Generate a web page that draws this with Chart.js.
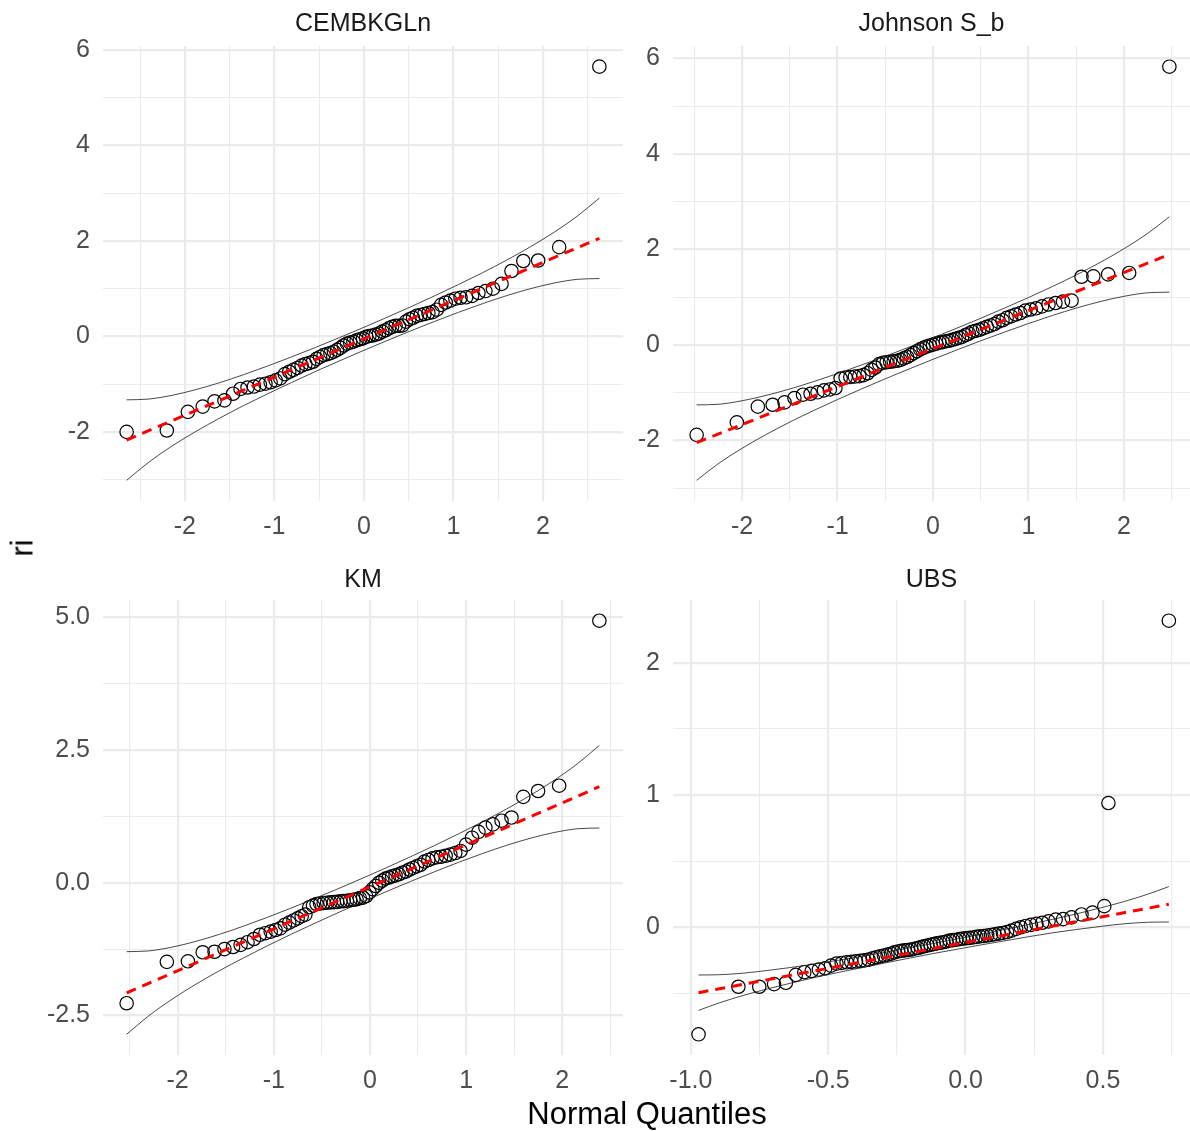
<!DOCTYPE html>
<html><head><meta charset="utf-8">
<script src="https://cdn.jsdelivr.net/npm/chart.js@4.4.1/dist/chart.umd.min.js"></script>
<style>
html,body{margin:0;padding:0;background:#fff;}
#wrap{position:relative;width:1190px;height:1131px;overflow:hidden;background:#fff;font-family:"Liberation Sans",Arial,sans-serif;}
canvas{position:absolute;}
.ttl{position:absolute;color:#000;font-size:31px;white-space:nowrap;line-height:1;transform:translate(-50%,-50%);}
</style></head><body>
<div id="wrap">
<canvas id="c1" width="630" height="548" style="left:0px;top:0px;width:630px;height:548px"></canvas>
<canvas id="c2" width="560" height="548" style="left:630px;top:0px;width:560px;height:548px"></canvas>
<canvas id="c3" width="630" height="552" style="left:0px;top:548px;width:630px;height:552px"></canvas>
<canvas id="c4" width="560" height="552" style="left:630px;top:548px;width:560px;height:552px"></canvas>
<div class="ttl" style="left:22px;top:548px;transform:translate(-50%,-50%) rotate(-90deg);">ri</div>
<div class="ttl" style="left:647px;top:1113px;">Normal Quantiles</div>
</div>
<script>
// ---------- data ----------
const panelTitles = ['CEMBKGLn', 'Johnson S_b', 'KM', 'UBS'];

// CEMBKGLn
const x_CEMBKGLn = [-2.651,-2.202,-1.967,-1.801,-1.669,-1.558,-1.462,-1.378,-1.300,-1.229,
 -1.162,-1.100,-1.042,-0.986,-0.934,-0.883,-0.834,-0.787,-0.741,-0.696,
 -0.653,-0.611,-0.569,-0.529,-0.489,-0.450,-0.411,-0.374,-0.335,-0.299,
 -0.262,-0.226,-0.189,-0.153,-0.117,-0.081,-0.045,-0.010,0.025,0.061,
 0.097,0.133,0.169,0.206,0.242,0.279,0.315,0.354,0.391,0.430,
 0.469,0.509,0.549,0.591,0.633,0.676,0.721,0.767,0.814,0.863,
 0.914,0.966,1.022,1.080,1.142,1.209,1.280,1.358,1.442,1.538,
 1.649,1.781,1.947,2.182,2.631];
const y_CEMBKGLn = [-2.00,-1.97,-1.58,-1.47,-1.36,-1.34,-1.20,-1.10,-1.07,-1.05,
 -1.01,-0.99,-0.96,-0.92,-0.88,-0.79,-0.74,-0.70,-0.66,-0.61,
 -0.58,-0.56,-0.53,-0.47,-0.43,-0.39,-0.37,-0.35,-0.32,-0.28,
 -0.24,-0.19,-0.15,-0.13,-0.11,-0.08,-0.06,-0.04,-0.01,0.01,
 0.02,0.04,0.06,0.10,0.13,0.17,0.20,0.22,0.22,0.23,
 0.31,0.36,0.39,0.43,0.45,0.47,0.49,0.51,0.56,0.66,
 0.71,0.75,0.79,0.81,0.82,0.85,0.91,0.95,1.00,1.10,
 1.37,1.58,1.59,1.87,5.65];
const bandX_CEMBKGLn = [-2.651,-2.411,-2.144,-1.877,-1.611,-1.344,-1.077,-0.810,-0.544,-0.277,-0.010,0.257,0.524,0.790,1.057,1.324,1.591,1.857,2.124,2.391,2.631];
const bandHi_CEMBKGLn = [-1.328,-1.313,-1.234,-1.114,-0.968,-0.801,-0.621,-0.430,-0.233,-0.028,0.183,0.400,0.621,0.850,1.087,1.333,1.594,1.874,2.180,2.529,2.898];
const bandLo_CEMBKGLn = [-3.014,-2.645,-2.296,-1.990,-1.710,-1.449,-1.203,-0.966,-0.737,-0.516,-0.299,-0.088,0.117,0.314,0.505,0.685,0.852,0.998,1.118,1.197,1.212];
const lineX_CEMBKGLn = [-2.651, 2.631];
const lineY_CEMBKGLn = [-2.171, 2.055];

// Johnson S_b
const x_Johnson = [-2.475,-2.054,-1.834,-1.679,-1.555,-1.451,-1.361,-1.282,-1.209,-1.142,
 -1.080,-1.022,-0.967,-0.915,-0.866,-0.818,-0.772,-0.728,-0.685,-0.643,
 -0.603,-0.563,-0.524,-0.486,-0.449,-0.412,-0.376,-0.341,-0.305,-0.271,
 -0.236,-0.202,-0.168,-0.134,-0.100,-0.067,-0.033,0.000,0.033,0.067,
 0.100,0.134,0.168,0.202,0.236,0.271,0.305,0.341,0.376,0.412,
 0.449,0.486,0.524,0.563,0.603,0.643,0.685,0.728,0.772,0.818,
 0.866,0.915,0.967,1.022,1.080,1.142,1.209,1.282,1.361,1.451,
 1.555,1.679,1.834,2.054,2.475];
const y_Johnson = [-1.88,-1.62,-1.29,-1.25,-1.20,-1.11,-1.04,-1.02,-0.99,-0.95,
 -0.93,-0.90,-0.70,-0.68,-0.67,-0.66,-0.65,-0.63,-0.59,-0.52,
 -0.47,-0.40,-0.37,-0.36,-0.35,-0.34,-0.33,-0.31,-0.28,-0.25,
 -0.21,-0.17,-0.13,-0.09,-0.06,-0.03,-0.01,0.01,0.03,0.05,
 0.06,0.08,0.09,0.11,0.13,0.15,0.17,0.21,0.24,0.28,
 0.30,0.32,0.35,0.38,0.41,0.44,0.49,0.52,0.57,0.60,
 0.64,0.67,0.72,0.745,0.77,0.81,0.85,0.88,0.91,0.93,
 1.43,1.44,1.48,1.51,5.83];
const bandX_Johnson = [-2.475,-2.25,-2,-1.75,-1.5,-1.25,-1,-0.75,-0.5,-0.25,0,0.25,0.5,0.75,1,1.25,1.5,1.75,2,2.25,2.475];
const bandHi_Johnson = [-1.253,-1.241,-1.167,-1.056,-0.920,-0.765,-0.597,-0.419,-0.235,-0.044,0.153,0.354,0.561,0.775,0.995,1.225,1.468,1.730,2.017,2.341,2.687];
const bandLo_Johnson = [-2.833,-2.487,-2.163,-1.876,-1.614,-1.371,-1.141,-0.921,-0.707,-0.500,-0.299,-0.102,0.089,0.273,0.451,0.619,0.774,0.910,1.021,1.095,1.107];
const lineX_Johnson = [-2.475, 2.475];
const lineY_Johnson = [-2.043, 1.897];

// KM
const x_KM = [-2.530,-2.112,-1.893,-1.739,-1.616,-1.513,-1.423,-1.345,-1.273,-1.206,
 -1.144,-1.087,-1.032,-0.981,-0.932,-0.884,-0.839,-0.795,-0.752,-0.710,
 -0.671,-0.631,-0.592,-0.555,-0.518,-0.481,-0.445,-0.411,-0.375,-0.341,
 -0.306,-0.273,-0.239,-0.205,-0.171,-0.139,-0.105,-0.072,-0.039,-0.005,
 0.027,0.061,0.095,0.129,0.162,0.197,0.231,0.267,0.301,0.337,
 0.374,0.411,0.448,0.487,0.527,0.567,0.608,0.651,0.695,0.740,
 0.788,0.837,0.888,0.943,1.000,1.062,1.129,1.201,1.279,1.369,
 1.472,1.595,1.749,1.968,2.386];
const y_KM = [-2.27,-1.49,-1.48,-1.31,-1.30,-1.25,-1.21,-1.17,-1.12,-1.06,
 -0.98,-0.95,-0.92,-0.89,-0.86,-0.79,-0.75,-0.71,-0.67,-0.63,
 -0.60,-0.46,-0.43,-0.40,-0.39,-0.38,-0.375,-0.37,-0.365,-0.36,
 -0.35,-0.345,-0.34,-0.33,-0.32,-0.31,-0.29,-0.28,-0.25,-0.18,
 -0.12,-0.06,0.00,0.04,0.08,0.10,0.12,0.14,0.16,0.19,
 0.21,0.25,0.28,0.31,0.34,0.40,0.43,0.46,0.48,0.49,
 0.51,0.53,0.56,0.60,0.72,0.85,0.96,1.04,1.10,1.17,
 1.23,1.62,1.73,1.83,4.94];
const bandX_KM = [-2.530,-2.306,-2.058,-1.810,-1.562,-1.313,-1.065,-0.817,-0.569,-0.320,-0.072,0.176,0.425,0.673,0.921,1.169,1.418,1.666,1.914,2.162,2.386];
const bandHi_KM = [-1.298,-1.285,-1.213,-1.104,-0.970,-0.816,-0.650,-0.475,-0.293,-0.104,0.090,0.288,0.493,0.703,0.921,1.148,1.388,1.646,1.929,2.249,2.590];
const bandLo_KM = [-2.856,-2.515,-2.195,-1.912,-1.654,-1.414,-1.186,-0.969,-0.759,-0.554,-0.356,-0.162,0.027,0.209,0.385,0.550,0.704,0.838,0.947,1.019,1.032];
const lineX_KM = [-2.530, 2.386];
const lineY_KM = [-2.077, 1.811];

// UBS
const x_UBS = [-0.972,-0.827,-0.751,-0.697,-0.654,-0.618,-0.587,-0.560,-0.534,-0.511,
 -0.490,-0.470,-0.451,-0.433,-0.416,-0.399,-0.383,-0.368,-0.353,-0.338,
 -0.325,-0.311,-0.297,-0.284,-0.271,-0.259,-0.246,-0.234,-0.222,-0.210,
 -0.198,-0.186,-0.174,-0.162,-0.151,-0.139,-0.127,-0.116,-0.105,-0.093,
 -0.081,-0.070,-0.058,-0.046,-0.034,-0.022,-0.010,0.002,0.014,0.027,
 0.039,0.052,0.065,0.079,0.093,0.106,0.121,0.136,0.151,0.167,
 0.184,0.201,0.219,0.238,0.258,0.279,0.302,0.328,0.355,0.386,
 0.422,0.462,0.505,0.520,0.740];
const y_UBS = [-0.81,-0.45,-0.45,-0.43,-0.42,-0.36,-0.34,-0.33,-0.32,-0.31,
 -0.29,-0.275,-0.27,-0.265,-0.262,-0.258,-0.254,-0.25,-0.245,-0.235,
 -0.227,-0.22,-0.214,-0.207,-0.20,-0.19,-0.183,-0.178,-0.175,-0.172,
 -0.168,-0.162,-0.157,-0.15,-0.144,-0.138,-0.132,-0.127,-0.122,-0.118,
 -0.113,-0.108,-0.10,-0.097,-0.094,-0.09,-0.086,-0.083,-0.08,-0.077,
 -0.073,-0.069,-0.066,-0.062,-0.058,-0.053,-0.048,-0.043,-0.036,-0.025,
 -0.012,0.000,0.010,0.018,0.026,0.034,0.045,0.058,0.062,0.075,
 0.097,0.111,0.16,0.94,2.32];
const bandX_UBS = [-0.972,-0.895,-0.808,-0.722,-0.635,-0.549,-0.462,-0.376,-0.289,-0.203,-0.116,-0.030,0.057,0.144,0.230,0.317,0.403,0.490,0.576,0.663,0.740];
const bandHi_UBS = [-0.361,-0.359,-0.347,-0.327,-0.304,-0.278,-0.249,-0.219,-0.188,-0.155,-0.122,-0.088,-0.053,-0.016,0.021,0.060,0.101,0.146,0.194,0.250,0.308];
const bandLo_UBS = [-0.629,-0.571,-0.515,-0.467,-0.422,-0.380,-0.341,-0.305,-0.268,-0.233,-0.198,-0.166,-0.133,-0.102,-0.071,-0.042,-0.017,0.006,0.026,0.038,0.040];
const lineX_UBS = [-0.972, 0.740];
const lineY_UBS = [-0.495, 0.174];

// tick values and labels
const xMajor_std = [-2, -1, 0, 1, 2];
const xMajorLabels_std = ['-2', '-1', '0', '1', '2'];
const xMinor_std = [-2.5, -1.5, -0.5, 0.5, 1.5, 2.5];
const yMajor_top = [-2, 0, 2, 4, 6];
const yMajorLabels_top = ['-2', '0', '2', '4', '6'];
const yMinor_top = [-3, -1, 1, 3, 5];
const yMajor_KM = [-2.5, 0, 2.5, 5];
const yMajorLabels_KM = ['-2.5', '0.0', '2.5', '5.0'];
const yMinor_KM = [-1.25, 1.25, 3.75];
const xMajor_UBS = [-1, -0.5, 0, 0.5];
const xMajorLabels_UBS = ['-1.0', '-0.5', '0.0', '0.5'];
const xMinor_UBS = [-0.75, -0.25, 0.25, 0.75];
const yMajor_UBS = [0, 1, 2];
const yMajorLabels_UBS = ['0', '1', '2'];
const yMinor_UBS = [-0.5, 0.5, 1.5];

// ---------- drawing ----------
const FONT = '"Liberation Sans", Arial, sans-serif';
Chart.defaults.font.family = FONT;

function pts(xs, ys) { return xs.map((x, i) => ({x: x, y: ys[i]})); }

function axis(min, max, major, labels, minor, isX, fitSize, pad) {
  const all = major.concat(minor).sort((a, b) => a - b);
  const isMajor = v => major.some(m => Math.abs(m - v) < 1e-9);
  return {
    type: 'linear', min: min, max: max,
    position: isX ? 'bottom' : 'left',
    afterBuildTicks: s => { s.ticks = all.map(v => ({value: v})); },
    afterFit: s => { if (isX) s.height = fitSize; else s.width = fitSize; },
    border: {display: false},
    grid: {
      color: '#EBEBEB', drawTicks: false,
      lineWidth: c => (c.tick && isMajor(c.tick.value)) ? 2.2 : 1.1
    },
    ticks: {
      autoSkip: false, maxRotation: 0, minRotation: 0,
      padding: pad, color: '#4D4D4D', font: {size: 25, family: FONT},
      callback: v => { const k = major.findIndex(m => Math.abs(m - v) < 1e-9); return k >= 0 ? labels[k] : ''; }
    }
  };
}

function panel(id, title, xs, ys, bx, bhi, blo, lx, ly, xs_cfg, ys_cfg, titlePad, padRight) {
  new Chart(document.getElementById(id), {
    type: 'scatter',
    data: {
      datasets: [
        {data: pts(lx, ly), showLine: true, borderColor: '#FF0000', borderWidth: 3, borderDash: [10, 7], pointRadius: 0, fill: false, order: 1},
        {data: pts(bx, bhi), showLine: true, borderColor: '#1a1a1a', borderWidth: 0.8, pointRadius: 0, fill: false, cubicInterpolationMode: 'monotone', order: 2},
        {data: pts(bx, blo), showLine: true, borderColor: '#1a1a1a', borderWidth: 0.8, pointRadius: 0, fill: false, cubicInterpolationMode: 'monotone', order: 2},
        {data: pts(xs, ys), showLine: false, pointStyle: 'circle', pointRadius: 6.7, pointBorderWidth: 1.2,
         pointBorderColor: '#000', pointBackgroundColor: 'rgba(0,0,0,0)', order: 3}
      ]
    },
    options: {
      responsive: false, animation: false, devicePixelRatio: 1, events: [],
      layout: {autoPadding: false, padding: {left: 0, right: padRight, top: 0, bottom: 0}},
      plugins: {
        legend: {display: false}, tooltip: {enabled: false},
        title: {display: true, text: title, color: '#1A1A1A', fullSize: false,
                font: {size: 25, weight: 'normal', family: FONT, lineHeight: 1.2},
                padding: {top: titlePad[0], bottom: titlePad[1]}}
      },
      scales: {x: xs_cfg, y: ys_cfg}
    }
  });
}

// Top-left: CEMBKGLn
panel('c1', panelTitles[0], x_CEMBKGLn, y_CEMBKGLn, bandX_CEMBKGLn, bandHi_CEMBKGLn, bandLo_CEMBKGLn, lineX_CEMBKGLn, lineY_CEMBKGLn,
  axis(-2.915, 2.895, xMajor_std, xMajorLabels_std, xMinor_std, true, 47, 11),
  axis(-3.447, 6.083, yMajor_top, yMajorLabels_top, yMinor_top, false, 103, 13),
  [9, 7], 7);
// Top-right: Johnson S_b
panel('c2', panelTitles[1], x_Johnson, y_Johnson, bandX_Johnson, bandHi_Johnson, bandLo_Johnson, lineX_Johnson, lineY_Johnson,
  axis(-2.7225, 2.691, xMajor_std, xMajorLabels_std, xMinor_std, true, 47, 11),
  axis(-3.266, 6.263, yMajor_top, yMajorLabels_top, yMinor_top, false, 43, 13),
  [9, 7], 0);
// Bottom-left: KM
panel('c3', panelTitles[2], x_KM, y_KM, bandX_KM, bandHi_KM, bandLo_KM, lineX_KM, lineY_KM,
  axis(-2.776, 2.632, xMajor_std, xMajorLabels_std, xMinor_std, true, 45, 11),
  axis(-3.246, 5.33, yMajor_KM, yMajorLabels_KM, yMinor_KM, false, 103, 13),
  [17, 5], 7);
// Bottom-right: UBS
panel('c4', panelTitles[3], x_UBS, y_UBS, bandX_UBS, bandHi_UBS, bandLo_UBS, lineX_UBS, lineY_UBS,
  axis(-1.065, 0.817, xMajor_UBS, xMajorLabels_UBS, xMinor_UBS, true, 45, 11),
  axis(-0.9665, 2.4765, yMajor_UBS, yMajorLabels_UBS, yMinor_UBS, false, 43, 13),
  [17, 5], 0);
</script>
</body></html>
